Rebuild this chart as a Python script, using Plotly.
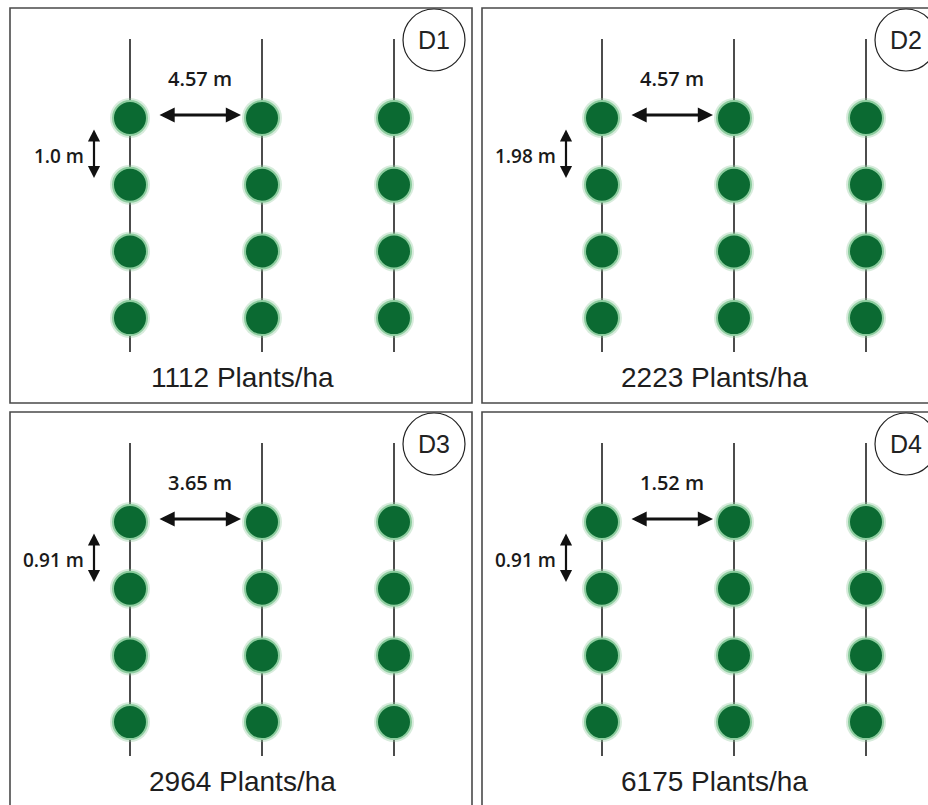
import plotly.graph_objects as go

# ---- data ----
panel_names = ["D1", "D2", "D3", "D4"]
densities = [1112, 2223, 2964, 6175]
row_spacing_labels = ["4.57 m", "4.57 m", "3.65 m", "1.52 m"]
plant_spacing_labels = ["1.0 m", "1.98 m", "0.91 m", "0.91 m"]
n_rows = 3          # planting rows per panel
n_plants = 4        # plants drawn per row

# ---- layout geometry (pixels) ----
W, H = 928, 805
DX, DY = 472, 404                     # offset between panel columns / rows
offsets = [(0, 0), (DX, 0), (0, DY), (DX, DY)]
COL0, COL_STEP = 130, 132
PLANT0, PLANT_STEP = 118, 66.7
LINE_TOP, LINE_BOT = 39, 352

fig = go.Figure()
shapes = []
annotations = []

px, py = [], []
for k, (ox, oy) in enumerate(offsets):
    # panel border
    shapes.append(dict(type="rect", xref="x", yref="y",
                       x0=10 + ox, x1=472 + ox + (60 if ox else 0),
                       y0=8 + oy, y1=403 + oy + (60 if oy else 0),
                       line=dict(color="#4a4a4a", width=1.6), fillcolor="rgba(0,0,0,0)",
                       layer="below"))
    for j in range(n_rows):
        cx = COL0 + j * COL_STEP + ox
        shapes.append(dict(type="line", xref="x", yref="y",
                           x0=cx, x1=cx, y0=LINE_TOP + oy, y1=LINE_BOT + oy,
                           line=dict(color="#111111", width=1.5), layer="below"))
        for i in range(n_plants):
            px.append(cx)
            py.append(PLANT0 + i * PLANT_STEP + oy)
    # badge circle
    bx, by, r = 434 + ox, 40 + oy, 31
    shapes.append(dict(type="circle", xref="x", yref="y",
                       x0=bx - r, x1=bx + r, y0=by - r, y1=by + r,
                       line=dict(color="#222222", width=1.2), fillcolor="rgba(255,255,255,0)"))
    annotations.append(dict(x=bx, y=by, xref="x", yref="y", text=panel_names[k],
                            showarrow=False, font=dict(family="Liberation Sans, Arial", size=25, color="#222")))
    # horizontal row-spacing arrow
    annotations.append(dict(x=241 + ox, y=115 + oy, ax=158 + ox, ay=115 + oy,
                            xref="x", yref="y", axref="x", ayref="y", text="",
                            showarrow=True, arrowhead=2, arrowside="end+start",
                            arrowsize=0.95, arrowwidth=3.2, arrowcolor="#111"))
    annotations.append(dict(x=200 + ox, y=78 + oy, xref="x", yref="y",
                            text=row_spacing_labels[k], showarrow=False,
                            font=dict(family="Open Sans", size=20, color="#1a1a1a", weight=600)))
    # vertical plant-spacing arrow
    vx = 94 + ox
    annotations.append(dict(x=vx, y=178 + oy, ax=vx, ay=128 + oy,
                            xref="x", yref="y", axref="x", ayref="y", text="",
                            showarrow=True, arrowhead=2, arrowside="end+start",
                            arrowsize=1.1, arrowwidth=2.2, arrowcolor="#111"))
    annotations.append(dict(x=vx - 8, y=156 + oy, xref="x", yref="y", xanchor="right",
                            text=plant_spacing_labels[k], showarrow=False,
                            font=dict(family="Open Sans", size=19, color="#1a1a1a", weight=600)))
    # density label
    annotations.append(dict(x=242 + ox, y=377 + oy, xref="x", yref="y",
                            text=f"{densities[k]} Plants/ha", showarrow=False,
                            font=dict(family="Liberation Sans, Arial", size=28, color="#1e1e1e")))

# plants: soft halo + dark green disc
fig.add_trace(go.Scatter(x=px, y=py, mode="markers", hoverinfo="skip",
                         marker=dict(size=40, color="rgba(140,200,155,0.35)", line=dict(width=0))))
fig.add_trace(go.Scatter(x=px, y=py, mode="markers", hoverinfo="skip",
                         marker=dict(size=34, color="#0b6a32",
                                     line=dict(width=2, color="#8ccc9e"))))

fig.update_layout(
    width=W, height=H, margin=dict(l=0, r=0, t=0, b=0),
    paper_bgcolor="white", plot_bgcolor="white", showlegend=False,
    xaxis=dict(range=[0, W], visible=False, fixedrange=True),
    yaxis=dict(range=[H, 0], visible=False, fixedrange=True),
    shapes=shapes, annotations=annotations,
)

fig.write_html("out.html", config={"displayModeBar": False},
               post_script="document.body.style.margin='0';document.body.style.overflow='hidden';")
